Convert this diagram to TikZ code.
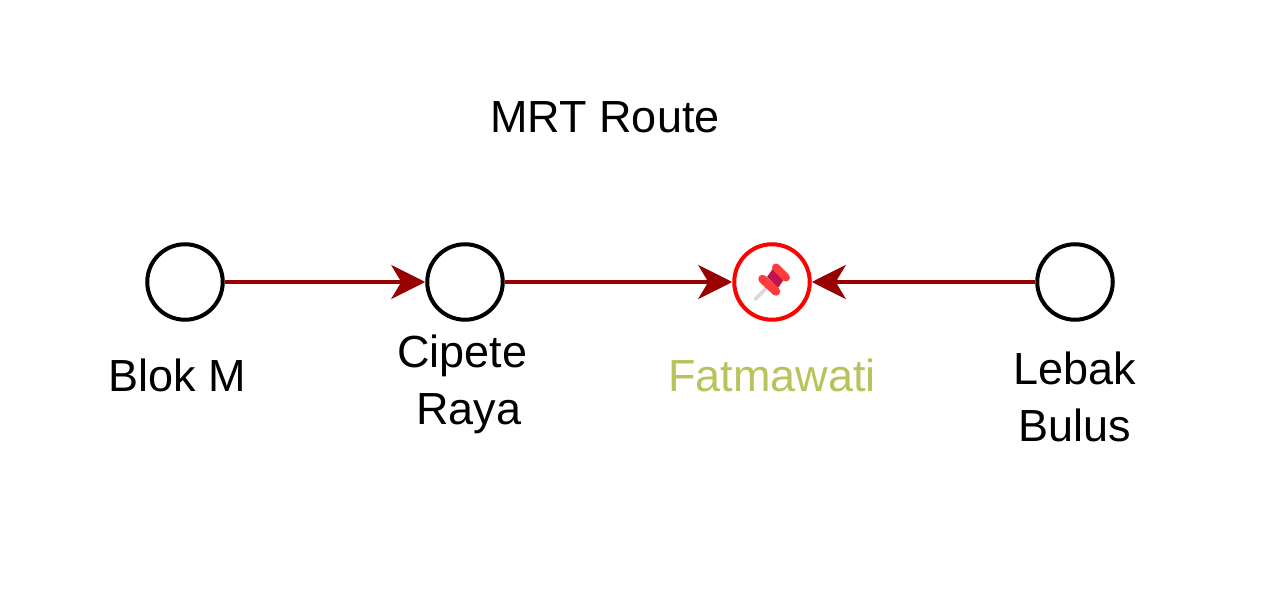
\documentclass[tikz,border=0pt]{standalone}
\usepackage{fontspec}
\setmainfont{Liberation Sans}
\usetikzlibrary{arrows.meta}
\definecolor{routered}{HTML}{990000}
\definecolor{labelgreen}{HTML}{B9C35C}
\definecolor{pinred}{HTML}{FF3B3B}
\definecolor{pinpurple}{HTML}{C2124F}
\tikzset{
  station/.style={circle,draw=black,line width=4pt,minimum size=75.5pt,inner sep=0pt,fill=white},
  activestation/.style={station,draw=red},
  route/.style={draw=routered,line width=4.2pt,-{Stealth[length=34pt,width=34pt,inset=10pt,color=routered]}},
  lbl/.style={font=\fontsize{45pt}{57pt}\selectfont,align=center,inner sep=0pt,text=black},
}
\begin{document}
\begin{tikzpicture}[x=1pt,y=-1pt]
\useasboundingbox (0,0) rectangle (1286,604);
\node[station] (blok) at (185,282) {};
\node[station] (cipete) at (465,282) {};
\node[activestation] (fatma) at (772,282) {};
\node[station] (lebak) at (1075,282) {};
\draw[route] (blok) -- (cipete);
\draw[route] (cipete) -- (fatma);
\draw[route] (lebak) -- (fatma);
% pin icon
\draw[line width=3.6pt,color=black!15,line cap=round] (755.5,299) -- (766,288.5);
\fill[color=pinpurple] (767,277) -- (778,288) -- (785,278) -- (774,267) -- cycle;
\draw[line width=8.5pt,color=pinred,line cap=round] (762.5,279) -- (776,291.5);
\draw[line width=8pt,color=pinred,line cap=round] (776,267.5) -- (786,277.5);
\node[lbl] (title) at (605,117) {MRT Route};
\node[lbl] (blokl) at (177,375) {Blok M};
\node[lbl] (cipetel) at (462.5,384) {Cipete\\\hspace*{12.5pt}Raya};
\node[lbl,text=labelgreen] (fatmal) at (772,375) {Fatmawati};
\node[lbl] (lebakl) at (1075,396.5) {Lebak\\Bulus};
\end{tikzpicture}
\end{document}
